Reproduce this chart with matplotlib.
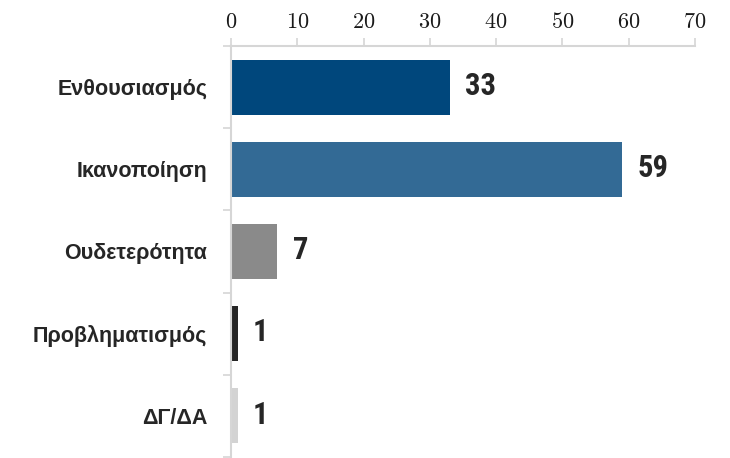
import matplotlib
matplotlib.use("Agg")
import matplotlib.pyplot as plt
from matplotlib import font_manager
from matplotlib.ft2font import FT2Font
from matplotlib.ticker import FixedLocator, FuncFormatter

categories = ["Ενθουσιασμός", "Ικανοποίηση", "Ουδετερότητα", "Προβληματισμός", "ΔΓ/ΔΑ"]
values = [33, 59, 7, 1, 1]
colors = ["#00477c", "#336a95", "#8a8a8a", "#262626", "#d3d3d3"]
xticks = [0, 10, 20, 30, 40, 50, 60, 70]


def pick_font(cands, fallback="Liberation Sans"):
    entries = font_manager.fontManager.ttflist
    for c in cands:
        for f in entries:
            if f.name == c and f.weight in (700, "bold"):
                try:
                    cm = FT2Font(f.fname).get_charmap()
                    if 0x03B8 in cm and 0x0394 in cm:
                        return c
                except Exception:
                    pass
    return fallback


narrow = pick_font(["Roboto Condensed", "Arial Narrow", "Liberation Sans Narrow",
                    "Open Sans Condensed", "Fira Sans Condensed", "PT Sans Narrow",
                    "Archivo Narrow", "IBM Plex Sans Condensed"])

plt.rcParams["mathtext.fontset"] = "cm"

fig = plt.figure(figsize=(7.3, 4.58), dpi=100)
ax = fig.add_axes([231/730, 1-457/458, (695-231)/730, (457-46)/458])

y = list(range(len(categories)))
ax.barh(y, values, height=0.67, color=colors)
ax.set_ylim(len(categories)-0.5, -0.5)
ax.set_xlim(0, 70)

for yi, v in zip(y, values):
    ax.annotate(str(v), (v, yi), xytext=(11, 1), textcoords="offset points",
                ha="left", va="center", fontsize=22, fontweight="bold",
                family=[narrow, "Liberation Sans"], color="#262626")

ax.xaxis.tick_top()
ax.xaxis.set_major_locator(FixedLocator(xticks))
ax.xaxis.set_major_formatter(FuncFormatter(lambda v, p: f"${int(v)}$"))
ax.tick_params(axis="x", which="major", length=6, color="#d6d6d6", width=1.2,
               labelsize=16, pad=4, labelcolor="#1a1a1a")

ax.set_yticks(y)
ax.set_yticklabels(categories, fontsize=15.5, fontweight="bold",
                   family=["Liberation Sans", "DejaVu Sans"], color="#262626")
ax.tick_params(axis="y", which="major", length=0, pad=17)
ax.set_yticks([i + 0.5 for i in range(-1, len(categories))], minor=True)
ax.tick_params(axis="y", which="minor", length=6, color="#d6d6d6", width=1.2)

for s in ["right", "bottom"]:
    ax.spines[s].set_visible(False)
for s in ["top", "left"]:
    ax.spines[s].set_color("#d6d6d6")
    ax.spines[s].set_linewidth(1.5)

fig.savefig("out.png", dpi=100)
